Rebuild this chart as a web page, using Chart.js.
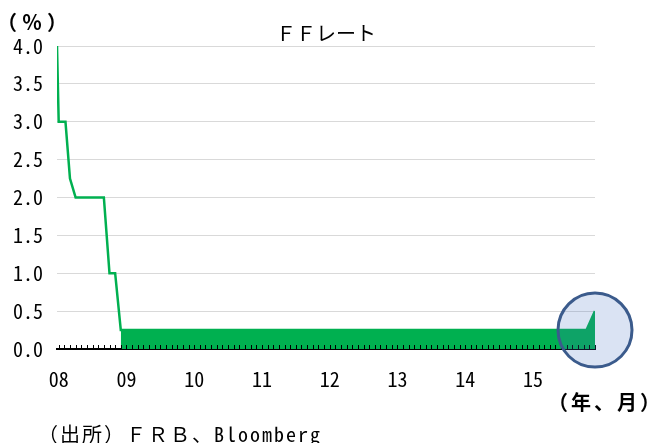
<!DOCTYPE html>
<html>
<head>
<meta charset="utf-8">
<script src="https://cdn.jsdelivr.net/npm/chart.js@4"></script>
<style>
  body { margin: 0; background: #fff; }
  #wrap { width: 647px; height: 443px; position: relative; }
</style>
</head>
<body>
<div id="wrap"><canvas id="ffChart"></canvas></div>
<script>
// months counted from Jan 2008 (0 = 2008/01)
const rateMonths = [-0.3, 0, 1.2, 2, 3, 8, 9, 10, 11, 93.5, 95];
const rateValues = [4.0, 3.0, 3.0, 2.25, 2.0, 2.0, 1.0, 1.0, 0.25, 0.25, 0.5];
// zero-rate band (0 - 0.25%) after Dec 2008
const bandMonths = [11, 93.5, 95];
const bandValues = [0.25, 0.25, 0.5];
const yearLabels = ['08', '09', '10', '11', '12', '13', '14', '15'];
const lastMonth = 95;

const FONT = "'Noto Sans Mono CJK JP', 'Noto Sans CJK JP', sans-serif";
const GREEN = '#00B050';

function spacedText(ctx, text, x, y, spacing) {
  ctx.letterSpacing = spacing + 'px';
  ctx.fillText(text, x, y);
  ctx.letterSpacing = '0px';
}

const extras = {
  id: 'extras',
  afterDraw(chart) {
    const { ctx, chartArea, scales } = chart;
    const x = scales.x, y = scales.y;
    ctx.save();
    // monthly tick marks pointing up from the axis
    ctx.strokeStyle = '#000';
    ctx.lineWidth = 1;
    ctx.beginPath();
    for (let m = 0; m <= lastMonth; m++) {
      const px = Math.round(x.getPixelForValue(m)) + 0.5;
      ctx.moveTo(px, chartArea.bottom);
      ctx.lineTo(px, chartArea.bottom - 4);
    }
    ctx.stroke();

    // highlight circle round the latest value
    const cx = x.getPixelForValue(lastMonth);
    const cy = y.getPixelForValue(0.25);
    ctx.beginPath();
    ctx.arc(cx, cy, 37, 0, Math.PI * 2);
    ctx.fillStyle = 'rgba(68,114,196,0.2)';
    ctx.fill();
    ctx.lineWidth = 3;
    ctx.strokeStyle = '#3B5B8C';
    ctx.stroke();

    // texts
    ctx.fillStyle = '#000';
    ctx.textBaseline = 'middle';
    ctx.font = '20px ' + FONT;
    ctx.textAlign = 'center';
    ctx.fillText('ＦＦレート', (chartArea.left + chartArea.right) / 2, 33);
    ctx.textAlign = 'left';
    ctx.font = 'bold 20px ' + FONT;
    spacedText(ctx, '（％）', -3, 22, 5);
    spacedText(ctx, '（年、月）', 548, 402, 3);
    ctx.font = '20px ' + FONT;
    spacedText(ctx, '（出所）ＦＲＢ、Bloomberg', 38, 434, 2);
    ctx.restore();
  }
};

new Chart(document.getElementById('ffChart'), {
  type: 'line',
  data: {
    datasets: [{
      data: bandMonths.map((m, i) => ({ x: m, y: bandValues[i] })),
      borderWidth: 0,
      pointRadius: 0,
      backgroundColor: GREEN,
      fill: 'origin'
    }, {
      data: rateMonths.map((m, i) => ({ x: m, y: rateValues[i] })),
      borderColor: GREEN,
      borderWidth: 2.5,
      pointRadius: 0,
      fill: false
    }]
  },
  options: {
    responsive: true,
    maintainAspectRatio: false,
    animation: false,
    layout: { padding: { left: 0, right: 52, top: 46, bottom: 0 } },
    plugins: { legend: { display: false }, tooltip: { enabled: false } },
    scales: {
      x: {
        type: 'linear',
        min: -0.3,
        max: lastMonth,
        z: 1,
        afterFit: s => { s.height = 94; },
        afterBuildTicks: s => { s.ticks = yearLabels.map((_, i) => ({ value: i * 12 })); },
        grid: { display: false, drawTicks: false },
        border: { display: true, color: '#000', width: 2 },
        ticks: {
          padding: 18,
          maxRotation: 0,
          autoSkip: false,
          color: '#000',
          font: { family: FONT, size: 20 },
          callback: v => yearLabels[v / 12]
        }
      },
      y: {
        min: 0,
        max: 4,
        afterFit: s => { s.width = 57; },
        grid: { color: '#D9D9D9', lineWidth: 1, drawTicks: false },
        border: { display: false },
        ticks: {
          stepSize: 0.5,
          padding: 14,
          color: '#000',
          font: { family: FONT, size: 20 },
          callback: v => v.toFixed(1)
        }
      }
    }
  },
  plugins: [extras]
});
</script>
</body>
</html>
